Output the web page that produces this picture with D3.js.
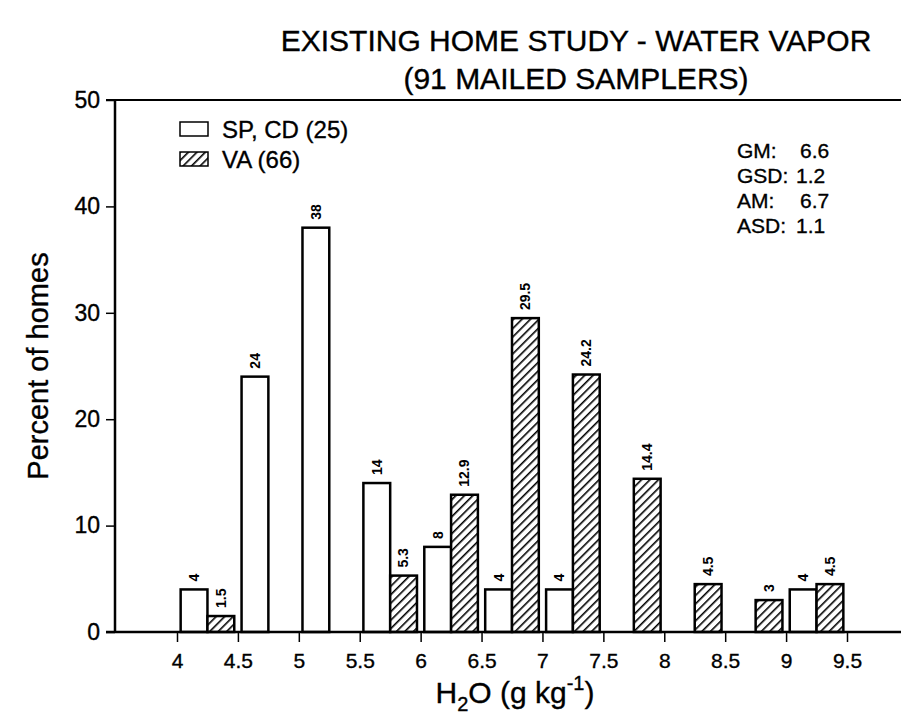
<!DOCTYPE html>
<html>
<head>
<meta charset="utf-8">
<script src="https://cdn.jsdelivr.net/npm/d3@7"></script>
<style>
  html, body { margin: 0; padding: 0; background: #fff; }
  svg { display: block; }
  text { font-family: "Liberation Sans", Arial, Helvetica, sans-serif; fill: #000; }
  .heavy { stroke: #000; stroke-width: 0.35px; }
</style>
</head>
<body>
<svg id="chart" width="901" height="717"></svg>
<script>
// ---- data ----
const binStarts = [4, 4.5, 5, 5.5, 6, 6.5, 7, 7.5, 8, 8.5, 9];
const spValues  = [4, 24, 38, 14, 8, 4, 4, 0, 0, 0, 4];
const vaValues  = [1.5, 0, 0, 5.3, 12.9, 29.5, 24.2, 14.4, 4.5, 3, 4.5];
const spLabels  = ["4", "24", "38", "14", "8", "4", "4", "", "", "", "4"];
const vaLabels  = ["1.5", "", "", "5.3", "12.9", "29.5", "24.2", "14.4", "4.5", "3", "4.5"];
const xTicks    = [4, 4.5, 5, 5.5, 6, 6.5, 7, 7.5, 8, 8.5, 9, 9.5];
const yTicks    = [0, 10, 20, 30, 40, 50];
const seriesNames = ["SP, CD (25)", "VA (66)"];
const statNames  = ["GM:", "GSD:", "AM:", "ASD:"];
const statValues = ["6.6", "1.2", "6.7", "1.1"];
const titleLines = ["EXISTING HOME STUDY - WATER VAPOR", "(91 MAILED SAMPLERS)"];

// ---- layout ----
const svg = d3.select("#chart");
const axisX = 115, baseY = 632, topY = 100, rightX = 901;
const x = d3.scaleLinear().domain([4, 9.5]).range([177, 847]);
const y = d3.scaleLinear().domain([0, 50]).range([baseY, topY]);

const defs = svg.append("defs");
const pat = defs.append("pattern")
  .attr("id", "hatch").attr("patternUnits", "userSpaceOnUse")
  .attr("width", 6).attr("height", 6)
  .attr("patternTransform", "rotate(45)");
pat.append("rect").attr("width", 6).attr("height", 6).attr("fill", "#fff");
pat.append("line").attr("x1", 0).attr("y1", 0).attr("x2", 0).attr("y2", 6)
  .attr("stroke", "#000").attr("stroke-width", 3.2);

// title
svg.selectAll("text.title").data(titleLines).enter().append("text")
  .attr("class", "title heavy")
  .attr("x", 576).attr("y", (d, i) => 51 + i * 38)
  .attr("text-anchor", "middle")
  .style("font-size", "30px")
  .text(d => d);

// frame lines
svg.append("line").attr("x1", axisX).attr("x2", axisX).attr("y1", topY).attr("y2", baseY)
  .attr("stroke", "#000").attr("stroke-width", 2.5);
svg.append("line").attr("x1", axisX - 9).attr("x2", rightX).attr("y1", topY).attr("y2", topY)
  .attr("stroke", "#000").attr("stroke-width", 2);

// y axis
const yAxis = d3.axisLeft(y).tickValues(yTicks).tickSize(9).tickPadding(6).tickFormat(d3.format("d"));
const gy = svg.append("g").attr("transform", `translate(${axisX},0)`).call(yAxis);
gy.select(".domain").remove();
gy.selectAll(".tick line").attr("stroke", "#000").attr("stroke-width", 1.5);
gy.selectAll(".tick text").attr("class", "heavy").style("font-size", "23px").style("font-family", "Liberation Sans, Arial, sans-serif");

// x axis
const xAxis = d3.axisBottom(x).tickValues(xTicks).tickSize(10).tickPadding(11).tickFormat(d => String(d));
const gx = svg.append("g").attr("transform", `translate(0,${baseY})`).call(xAxis);
gx.select(".domain").remove();
gx.selectAll(".tick line").attr("stroke", "#000").attr("stroke-width", 1.5);
gx.selectAll(".tick text").attr("class", "heavy").style("font-size", "21px").style("font-family", "Liberation Sans, Arial, sans-serif");

// bars
const rows = binStarts.map((b, i) => ({ b, sp: spValues[i], va: vaValues[i], spl: spLabels[i], val: vaLabels[i] }));
const pad = 0.03, half = 0.22;
const g = svg.append("g");
g.selectAll("rect.sp").data(rows.filter(r => r.sp > 0)).enter().append("rect")
  .attr("x", r => x(r.b + pad)).attr("width", r => x(r.b + pad + half) - x(r.b + pad))
  .attr("y", r => y(r.sp)).attr("height", r => y(0) - y(r.sp))
  .attr("fill", "#fff").attr("stroke", "#000").attr("stroke-width", 2.5);
g.selectAll("rect.va").data(rows.filter(r => r.va > 0)).enter().append("rect")
  .attr("x", r => x(r.b + pad + half)).attr("width", r => x(r.b + pad + 2 * half) - x(r.b + pad + half))
  .attr("y", r => y(r.va)).attr("height", r => y(0) - y(r.va))
  .attr("fill", "url(#hatch)").attr("stroke", "#000").attr("stroke-width", 2.5);

// bar labels
function addLabel(cx, top, txt) {
  svg.append("text")
    .attr("transform", `translate(${cx},${top - 8}) rotate(-90)`)
    .attr("text-anchor", "start").attr("dy", "0.35em")
    .style("font-size", "14px").style("font-weight", "bold")
    .text(txt);
}
rows.forEach(r => {
  if (r.sp > 0) addLabel(x(r.b + pad + half / 2), y(r.sp), r.spl);
  if (r.va > 0) addLabel(x(r.b + pad + 1.5 * half), y(r.va), r.val);
});

// baseline (drawn over bars)
svg.append("line").attr("x1", axisX - 9).attr("x2", rightX).attr("y1", baseY).attr("y2", baseY)
  .attr("stroke", "#000").attr("stroke-width", 2.5);

// legend
const leg = svg.append("g");
seriesNames.forEach((name, i) => {
  const ly = 122 + i * 30;
  leg.append("rect").attr("x", 180).attr("y", ly).attr("width", 28).attr("height", 14)
    .attr("fill", i === 0 ? "#fff" : "url(#hatch)").attr("stroke", "#000").attr("stroke-width", 1.5);
  leg.append("text").attr("class", "heavy").attr("x", 222).attr("y", ly + 16).style("font-size", "24px").text(name);
});

// stats
const statX = 737, statValX = 796;
statNames.forEach((n, i) => {
  const sy = 158 + i * 25;
  svg.append("text").attr("class", "heavy").attr("x", statX).attr("y", sy).style("font-size", "21px").text(n);
  svg.append("text").attr("class", "heavy").attr("x", statValX + (n.length === 3 ? 4 : 0)).attr("y", sy)
    .style("font-size", "21px").text(statValues[i]);
});

// axis titles
svg.append("text")
  .attr("class", "heavy")
  .attr("transform", `translate(48,366) rotate(-90)`)
  .attr("text-anchor", "middle").style("font-size", "29px")
  .text("Percent of homes");

const xl = svg.append("text").attr("class", "heavy").attr("x", 515).attr("y", 703).attr("text-anchor", "middle").style("font-size", "30px");
xl.append("tspan").text("H");
xl.append("tspan").attr("dy", 8).style("font-size", "20px").text("2");
xl.append("tspan").attr("dy", -8).text("O (g kg");
xl.append("tspan").attr("dy", -13).style("font-size", "20px").text("-1");
xl.append("tspan").attr("dy", 13).text(")");
</script>
</body>
</html>
